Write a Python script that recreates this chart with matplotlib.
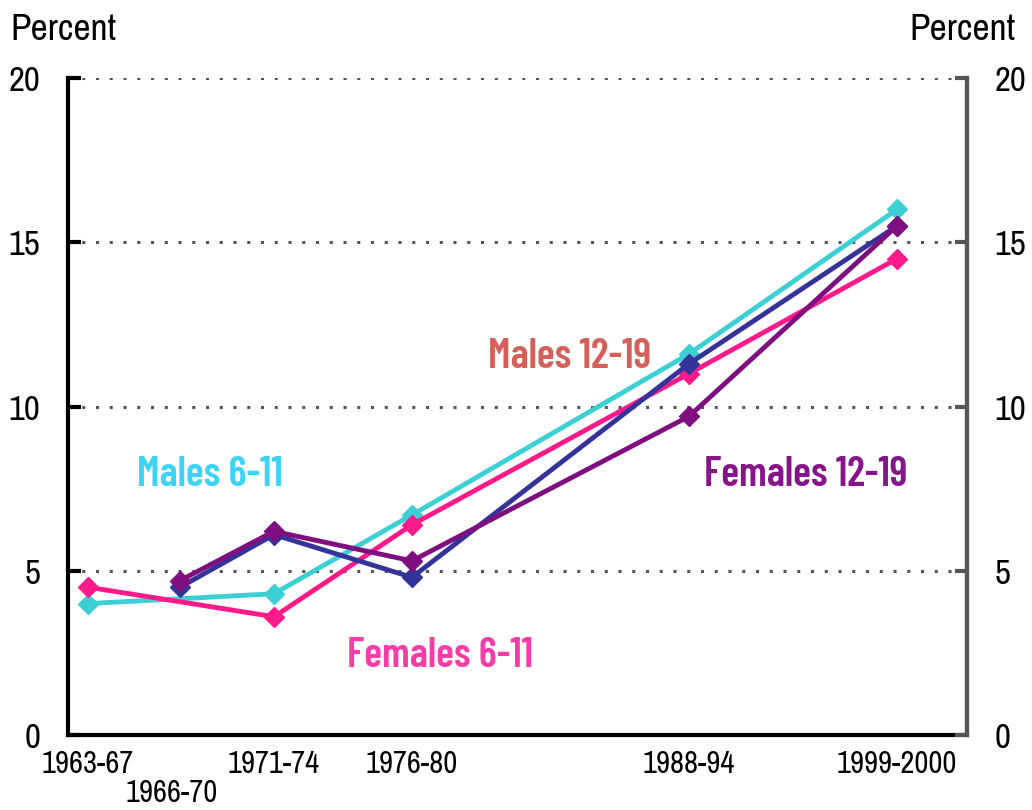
import matplotlib
matplotlib.use("Agg")
import matplotlib.pyplot as plt
from matplotlib import font_manager

periods = ["1963-67", "1966-70", "1971-74", "1976-80", "1988-94", "1999-2000"]
xpos = [88, 180, 274, 412, 689, 897]  # relative spacing of survey periods

males_6_11 = [4.0, None, 4.3, 6.7, 11.6, 16.0]
females_6_11 = [4.5, None, 3.6, 6.4, 11.0, 14.5]
males_12_19 = [None, 4.5, 6.1, 4.8, 11.3, 15.5]
females_12_19 = [None, 4.7, 6.2, 5.3, 9.7, 15.5]

yticks = [0, 5, 10, 15, 20]

names = {f.name for f in font_manager.fontManager.ttflist}
def pick(cands):
    for c in cands:
        if c in names:
            return c
    return "DejaVu Sans"

narrow = pick(["Liberation Sans Narrow", "Arimo Narrow", "Archivo Narrow", "Roboto Condensed",
               "PT Sans Narrow", "Sofia Sans Condensed", "Barlow Condensed"])
labfont = pick(["Barlow Condensed", "Sofia Sans Semi Condensed", "Roboto Condensed", "Lato"])

fig = plt.figure(figsize=(10.32, 8.10), dpi=100)
ax = fig.add_axes([68/1032, 1-735/810, (967-68)/1032, (735-78)/810])

def pts(vals):
    xs = [x for x, v in zip(xpos, vals) if v is not None]
    ys = [v for v in vals if v is not None]
    return xs, ys

series = [
    (males_6_11, "#3ccfd3"),
    (females_6_11, "#ff1a8c"),
    (males_12_19, "#333399"),
    (females_12_19, "#7f0f80"),
]
for vals, col in series:
    xs, ys = pts(vals)
    ax.plot(xs, ys, color=col, lw=3.5, marker="D", ms=10, mec=col, mfc=col, zorder=3)

ax.set_xlim(68, 967)
ax.set_ylim(0, 20)
ax.set_yticks(yticks)
ax.set_yticklabels([str(t) for t in yticks], fontsize=25, family=narrow)
for t in yticks[1:]:
    ax.axhline(t, color="#555555", lw=2.2, ls=(0, (1, 3.5)), zorder=1)

ax.spines["top"].set_visible(False)
ax.spines["left"].set_linewidth(3)
ax.spines["bottom"].set_linewidth(3)
ax.spines["right"].set_linewidth(3)
ax.spines["right"].set_color("#555555")
ax.tick_params(axis="y", direction="in", length=9, width=3, pad=20, colors="black")
ax.set_xticks([])

ax2 = ax.twinx()
ax2.set_ylim(0, 20)
ax2.set_yticks(yticks)
ax2.set_yticklabels([str(t) for t in yticks], fontsize=25, family=narrow)
ax2.tick_params(axis="y", direction="in", length=9, width=3, pad=20, color="#555555")
for s in ["top", "left", "bottom"]:
    ax2.spines[s].set_visible(False)
ax2.spines["right"].set_linewidth(3)
ax2.spines["right"].set_color("#555555")

for i, (x, p) in enumerate(zip(xpos, periods)):
    if i == 1:
        ax.text(x - 8, -0.45 - 0.9, p, ha="center", va="top", fontsize=22, family=narrow)
    else:
        ax.text(x, -0.45, p, ha="center", va="top", fontsize=22, family=narrow)

fig.text(10/1032, 1-30/810, "Percent", ha="left", va="center", fontsize=27, family=narrow)
fig.text(1015/1032, 1-30/810, "Percent", ha="right", va="center", fontsize=27, family=narrow)

lab = dict(fontsize=30, family=labfont, fontweight="semibold", ha="center", va="center")
ax.text(210, 7.9, "Males 6-11", color="#3dd3f5", **lab)
ax.text(570, 11.5, "Males 12-19", color="#d5605a", **lab)
ax.text(806, 7.9, "Females 12-19", color="#86148a", **lab)
ax.text(440, 2.4, "Females 6-11", color="#f53ca8", **lab)

fig.savefig("out.png", dpi=100)
